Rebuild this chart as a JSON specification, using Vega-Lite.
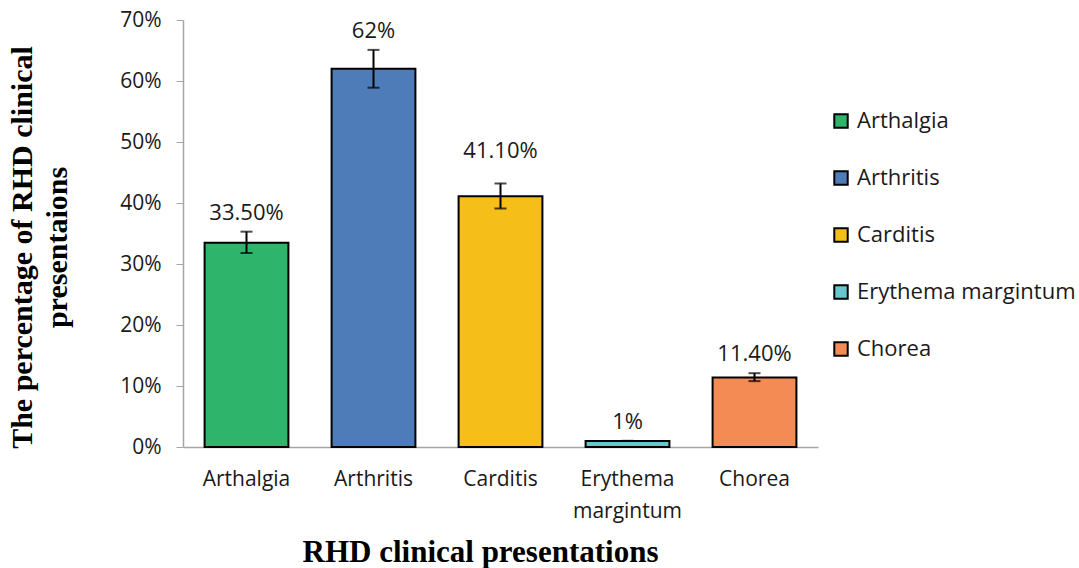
{
  "$schema": "https://vega.github.io/schema/vega-lite/v6.json",
  "autosize": {"type": "none"},
  "width": 635,
  "height": 427,
  "padding": {"left": 183, "top": 20, "right": 261, "bottom": 121},
  "background": "white",
  "config": {"view": {"stroke": null}},
  "data": {
    "values": [
      {"presentation": "Arthalgia", "pct": 33.5, "lower": 31.8, "upper": 35.3, "label": "33.50%"},
      {"presentation": "Arthritis", "pct": 62, "lower": 58.9, "upper": 65.1, "label": "62%"},
      {"presentation": "Carditis", "pct": 41.1, "lower": 39.1, "upper": 43.2, "label": "41.10%"},
      {"presentation": "Erythema margintum", "pct": 1, "lower": 1, "upper": 1, "label": "1%"},
      {"presentation": "Chorea", "pct": 11.4, "lower": 10.8, "upper": 12.1, "label": "11.40%"}
    ]
  },
  "encoding": {
    "x": {
      "field": "presentation",
      "type": "nominal",
      "sort": ["Arthalgia", "Arthritis", "Carditis", "Erythema margintum", "Chorea"],
      "scale": {"paddingInner": 0.34, "paddingOuter": 0.17},
      "axis": {
        "title": "RHD clinical presentations",
        "titleFont": "Liberation Serif",
        "titleFontSize": 31,
        "titleFontWeight": "bold",
        "titleColor": "#000000",
        "titleBaseline": "middle",
        "titleX": 297,
        "titleY": 105,
        "labelAngle": 0,
        "labelFont": "Open Sans",
        "labelFontSize": 21,
        "labelColor": "#1a1a1a",
        "labelBaseline": "top",
        "labelPadding": 21,
        "labelLineHeight": 32,
        "labelExpr": "datum.label == 'Erythema margintum' ? ['Erythema', 'margintum'] : datum.label",
        "ticks": false,
        "domainColor": "#a6a6a6",
        "domainWidth": 1.5
      }
    }
  },
  "layer": [
    {
      "mark": {"type": "bar", "stroke": "#000000", "strokeWidth": 2},
      "encoding": {
        "y": {
          "field": "pct",
          "type": "quantitative",
          "scale": {"domain": [0, 70]},
          "axis": {
            "values": [0, 10, 20, 30, 40, 50, 60, 70],
            "labelExpr": "datum.value + '%'",
            "grid": false,
            "title": ["The percentage of RHD clinical", "presentaions"],
            "titleFont": "Liberation Serif",
            "titleFontSize": 30,
            "titleFontWeight": "bold",
            "titleColor": "#000000",
            "titleAngle": -90,
            "titleAlign": "center",
            "titleBaseline": "top",
            "titleLineHeight": 35,
            "titleX": -176,
            "titleY": 227,
            "labelFont": "Open Sans",
            "labelFontSize": 21,
            "labelColor": "#1a1a1a",
            "labelPadding": 15,
            "tickSize": 7,
            "tickColor": "#a6a6a6",
            "domainColor": "#a6a6a6",
            "domainWidth": 1.5
          }
        },
        "color": {
          "field": "presentation",
          "type": "nominal",
          "scale": {
            "domain": ["Arthalgia", "Arthritis", "Carditis", "Erythema margintum", "Chorea"],
            "range": ["#2fb46c", "#4e7cb9", "#f6be18", "#66c7cc", "#f48b54"]
          },
          "legend": {
            "title": null,
            "orient": "none",
            "legendX": 647,
            "legendY": 90,
            "symbolType": "square",
            "symbolSize": 180,
            "symbolStrokeColor": "#000000",
            "symbolStrokeWidth": 2,
            "symbolOpacity": 1,
            "labelFont": "Open Sans",
            "labelFontSize": 22,
            "labelColor": "#1a1a1a",
            "labelOffset": 5,
            "labelLimit": 0,
            "rowPadding": 35
          }
        }
      }
    },
    {
      "mark": {"type": "rule", "color": "#000000", "strokeWidth": 2},
      "encoding": {
        "y": {"field": "lower", "type": "quantitative"},
        "y2": {"field": "upper"}
      }
    },
    {
      "mark": {"type": "tick", "color": "#000000", "thickness": 2, "size": 12, "orient": "horizontal"},
      "encoding": {
        "y": {"field": "lower", "type": "quantitative"}
      }
    },
    {
      "mark": {"type": "tick", "color": "#000000", "thickness": 2, "size": 12, "orient": "horizontal"},
      "encoding": {
        "y": {"field": "upper", "type": "quantitative"}
      }
    },
    {
      "transform": [{"filter": "datum.presentation != 'Carditis'"}],
      "mark": {"type": "text", "font": "Open Sans", "fontSize": 22, "color": "#1a1a1a", "baseline": "middle", "dy": -19},
      "encoding": {
        "y": {"field": "upper", "type": "quantitative"},
        "text": {"field": "label"}
      }
    },
    {
      "transform": [{"filter": "datum.presentation == 'Carditis'"}],
      "mark": {"type": "text", "font": "Open Sans", "fontSize": 22, "color": "#1a1a1a", "baseline": "middle", "dy": -32},
      "encoding": {
        "y": {"field": "upper", "type": "quantitative"},
        "text": {"field": "label"}
      }
    }
  ]
}
